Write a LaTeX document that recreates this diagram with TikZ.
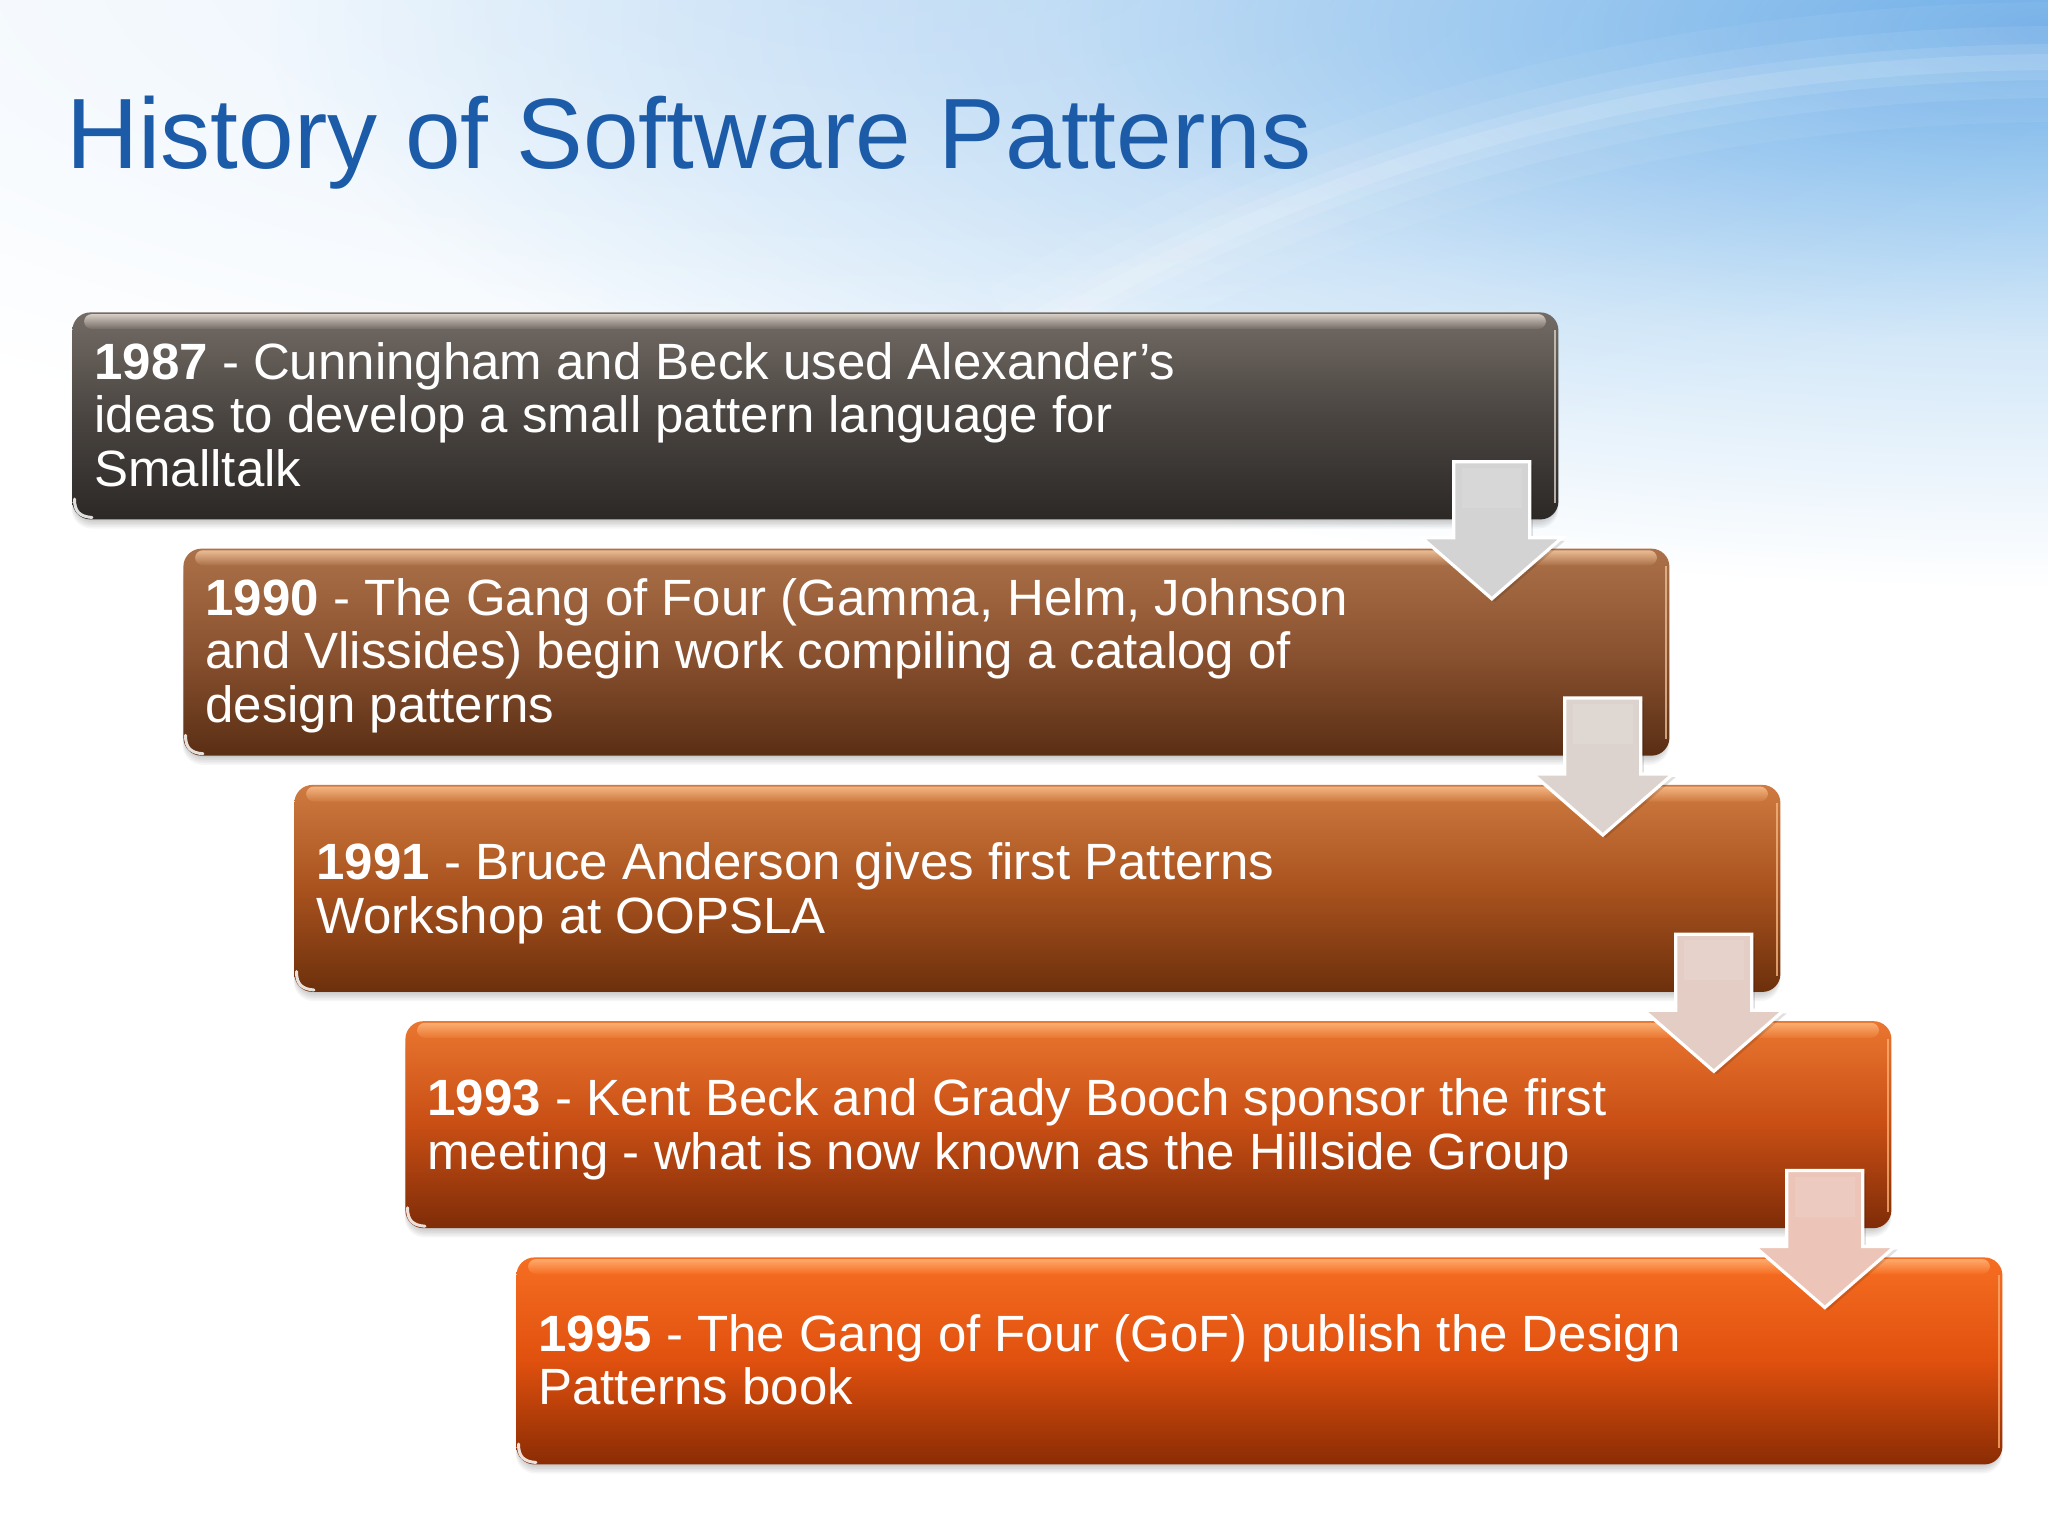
\documentclass[tikz,border=0pt]{standalone}
\usepackage{fontspec}
\setmainfont{Liberation Sans}
\usetikzlibrary{calc}
\definecolor{titleblue}{HTML}{1C5BA8}
\definecolor{bgtop}{HTML}{E6F1FB}
\definecolor{skyA}{HTML}{72B0E8}
\definecolor{skyB}{HTML}{9CCAF0}
\definecolor{skyC}{HTML}{D4E8F8}
% box colours
\definecolor{bAt}{HTML}{736B65}\definecolor{bAm}{HTML}{4A4541}\definecolor{bAb}{HTML}{2C2826}\definecolor{bAh}{HTML}{D6CEC4}
\definecolor{bBt}{HTML}{AC7148}\definecolor{bBm}{HTML}{8A5230}\definecolor{bBb}{HTML}{5A2E14}\definecolor{bBh}{HTML}{EABC94}
\definecolor{bCt}{HTML}{CE7A40}\definecolor{bCm}{HTML}{A9521E}\definecolor{bCb}{HTML}{6C300C}\definecolor{bCh}{HTML}{F4B480}
\definecolor{bDt}{HTML}{EA7630}\definecolor{bDm}{HTML}{C84E14}\definecolor{bDb}{HTML}{7E2C08}\definecolor{bDh}{HTML}{FAAE70}
\definecolor{bEt}{HTML}{F66E22}\definecolor{bEm}{HTML}{E0500E}\definecolor{bEb}{HTML}{8A2C04}\definecolor{bEh}{HTML}{FDAA6C}
% arrow colours
\definecolor{aA}{HTML}{D3D3D3}
\definecolor{aB}{HTML}{DCD3CE}
\definecolor{aC}{HTML}{E4CDC4}
\definecolor{aD}{HTML}{ECC5B8}
\pgfdeclareradialshading{skyglow}{\pgfpoint{0bp}{0bp}}{color(0bp)=(skyA); color(6bp)=(skyB); color(14bp)=(skyC); color(25bp)=(white); color(50bp)=(white)}
\pgfdeclareradialshading{tintglow}{\pgfpoint{0bp}{0bp}}{color(0bp)=(bgtop); color(25bp)=(white); color(50bp)=(white)}
\tikzset{
  boxbase/.style={shape=rectangle, anchor=north west, minimum width=743pt, minimum height=103.5pt, rounded corners=9pt, inner sep=0pt, draw=none},
  boxtext/.style={anchor=base west, inner sep=0pt, text=white, font=\fontsize{25.5}{26.75}\selectfont},
  titletext/.style={anchor=base west, inner sep=0pt, text=titleblue, font=\fontsize{50}{60}\selectfont},
  arrowbody/.style={draw=white, line width=1.6pt, line join=miter},
}
\newcommand\tlbox[8]{%
  \pgfmathsetmacro\bx{72+111*#1}%
  \pgfmathsetmacro\by{312+236.25*#1}%
  \pgfmathsetmacro\bxr{\bx+1486}%
  \pgfmathsetmacro\byb{\by+207}%
  \foreach \k in {2,4,...,12}{\fill[black,opacity=0.035,rounded corners=10pt] (\bx+2-\k*0.2,\by+\k) rectangle (\bxr-2+\k*0.2,\byb+\k*0.8);}
  \node[boxbase, top color=#3, bottom color=#5, middle color=#4] (#2) at (\bx,\by) {};
  \shade[top color=#6, bottom color=#3, rounded corners=4pt] (\bx+12,\by+2) rectangle (\bxr-12,\by+17);
  \draw[#6, line width=1.2pt, opacity=0.8] (\bxr-3,\by+18) -- (\bxr-3,\byb-16);
  \draw[white, line width=1.5pt, opacity=0.85, line cap=round] (\bx+2.5,\byb-20) .. controls (\bx+2.5,\byb-7) and (\bx+8,\byb-2.5) .. (\bx+20,\byb-1.5);
  \node[boxtext] (t#2) at ($(#2.north west)+(22,#7)$) {\begin{tabular}[t]{@{}l@{}}#8\end{tabular}};
}
\newcommand\tlarrow[3]{%
  \coordinate (#2) at ($(#1.south east)+(-67,0)$);
  \fill[black,opacity=0.12] ($(#2)+(-35,-55)$) -- ++(76,0) -- ++(0,76) -- ++(32,0) -- ++(-70,61) -- ++(-70,-61) -- ++(32,0) -- cycle;
  \draw[arrowbody, fill=#3] ($(#2)+(-38,-58)$) -- ++(76,0) -- ++(0,76) -- ++(32,0) -- ++(-70,61) -- ++(-70,-61) -- ++(32,0) -- cycle;
  \fill[white,opacity=0.10] ($(#2)+(-30,-52)$) rectangle ($(#2)+(30,-12)$);
}
\begin{document}
\begin{tikzpicture}[x=0.5pt,y=-0.5pt]
\useasboundingbox (0,0) rectangle (2048,1536);
% background
\fill[white] (0,0) rectangle (2048,1536);
\begin{scope}
\clip (0,0) rectangle (2048,1536);
\shade[shading=tintglow] (900,-40) ellipse [x radius=1500, y radius=520];
\shade[shading=skyglow, blend mode=multiply] (2060,30) ellipse [x radius=1800, y radius=560];
\foreach \w/\o in {60/0.06,36/0.08,18/0.1,8/0.12}{
  \draw[white, opacity=\o, line width=\w pt] (1020,340) .. controls (1350,140) and (1720,60) .. (2080,62);
}
\end{scope}
% title
\node[titletext] (title) at (66,168) {History of Software Patterns};
% boxes
\tlbox{0}{b1}{bAt}{bAm}{bAb}{bAh}{67}{\textbf{1987} - Cunningham and Beck used Alexander’s\\ideas to develop a small pattern language for\\Smalltalk}
\tlbox{1}{b2}{bBt}{bBm}{bBb}{bBh}{67}{\textbf{1990} - The Gang of Four (Gamma, Helm, Johnson\\and Vlissides) begin work compiling a catalog of\\design patterns}
\tlbox{2}{b3}{bCt}{bCm}{bCb}{bCh}{95}{\textbf{1991} - Bruce Anderson gives first Patterns\\Workshop at OOPSLA}
\tlbox{3}{b4}{bDt}{bDm}{bDb}{bDh}{95}{\textbf{1993} - Kent Beck and Grady Booch sponsor the first\\meeting - what is now known as the Hillside Group}
\tlbox{4}{b5}{bEt}{bEm}{bEb}{bEh}{94}{\textbf{1995} - The Gang of Four (GoF) publish the Design\\Patterns book}
% arrows
\tlarrow{b1}{a1}{aA}
\tlarrow{b2}{a2}{aB}
\tlarrow{b3}{a3}{aC}
\tlarrow{b4}{a4}{aD}
\end{tikzpicture}
\end{document}
